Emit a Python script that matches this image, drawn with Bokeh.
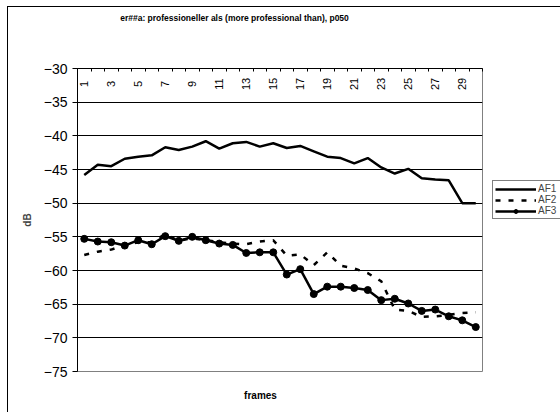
from math import pi

from bokeh.core.properties import value
from bokeh.embed import file_html
from bokeh.layouts import column, row
from bokeh.models import FixedTicker, Label, Legend, LegendItem, LinearAxis, Range1d
from bokeh.plotting import figure
from bokeh.resources import INLINE

# Level (dB) per analysis frame for the three formants
frames = list(range(1, 31))
af1 = [-45.8, -44.3, -44.5, -43.4, -43.1, -42.9, -41.7, -42.1, -41.6, -40.8,
       -41.9, -41.1, -40.9, -41.6, -41.1, -41.8, -41.5, -42.3, -43.1, -43.3,
       -44.1, -43.3, -44.7, -45.6, -44.9, -46.3, -46.5, -46.6, -50.0, -50.0]
af2 = [-57.7, -57.2, -56.9, -56.2, -55.8, -55.8, -54.6, -55.6, -55.2, -55.5,
       -55.8, -56.0, -56.1, -55.7, -55.5, -57.8, -57.6, -59.2, -57.3, -59.3,
       -59.7, -60.4, -61.6, -65.8, -66.0, -66.9, -66.8, -66.6, -66.3, -66.2]
af3 = [-55.3, -55.7, -55.8, -56.3, -55.5, -56.1, -54.9, -55.6, -55.0, -55.5,
       -56.0, -56.2, -57.4, -57.3, -57.3, -60.6, -59.8, -63.5, -62.4, -62.4,
       -62.6, -62.9, -64.4, -64.2, -64.9, -66.0, -65.8, -66.8, -67.4, -68.4]
label_frames = [f for f in frames if f % 2 == 1]
frame_labels = [str(f) for f in label_frames]
y_ticks = [-30, -35, -40, -45, -50, -55, -60, -65, -70, -75]
series_names = ["AF1", "AF2", "AF3"]

title_text = "er##a: professioneller als (more professional than), p050"
FONT = "Liberation Sans"
DASH = "5 8"


def blank(width, height):
    """A bare canvas whose data units are pixels, for text around the chart."""
    f = figure(width=width, height=height, x_range=Range1d(0, width), y_range=Range1d(0, height),
               x_axis_location=None, y_axis_location=None, title=None, min_border=0,
               toolbar_location=None, output_backend="svg")
    f.outline_line_color = None
    f.grid.visible = False
    f.background_fill_color = "white"
    f.border_fill_color = "white"
    return f


# ---- main plot area -------------------------------------------------------
p = figure(
    width=480, height=318,
    x_range=Range1d(0.5, 30.5), y_range=Range1d(-75, -30),
    x_axis_location=None, y_axis_location="left", title=None,
    output_backend="svg", toolbar_location=None,
    min_border_left=69, min_border_right=6, min_border_top=6, min_border_bottom=9,
)
p.background_fill_color = "white"
p.border_fill_color = "white"
p.outline_line_color = "#808080"
p.outline_line_width = 1

yax = p.yaxis[0]
yax.ticker = FixedTicker(ticks=y_ticks)
yax.major_label_text_font = FONT
yax.major_label_text_font_size = "14px"
yax.major_label_text_color = "black"
yax.major_label_standoff = 5
yax.major_tick_out = 5
yax.major_tick_in = 0
yax.minor_tick_line_color = None
yax.axis_line_color = "black"
yax.major_tick_line_color = "black"
yax.axis_label = "dB"
yax.axis_label_text_font = FONT
yax.axis_label_text_font_style = "bold"
yax.axis_label_text_font_size = "10px"
yax.axis_label_standoff = 8

p.ygrid.ticker = FixedTicker(ticks=y_ticks)
p.ygrid.grid_line_color = "black"
p.ygrid.grid_line_width = 1
p.xgrid.visible = False

# category axis along the top, ticks between frames
top = LinearAxis(
    ticker=FixedTicker(ticks=[i + 0.5 for i in range(0, 31)]),
    major_tick_in=3, major_tick_out=0, major_label_standoff=0,
    minor_tick_line_color=None,
    major_label_text_color=None, major_label_text_font_size="0px",
    axis_line_color="black", major_tick_line_color="black",
)
p.add_layout(top, "above")

# frame numbers, rotated, just under the top axis
p.text(x=label_frames, y=[-32.3] * len(label_frames), text=frame_labels,
       angle=pi / 2, text_align="center", text_baseline="middle",
       text_font=value(FONT), text_font_size=value("11px"), text_color="black")

p.line(frames, af1, line_color="black", line_width=2.5)
p.line(frames, af2, line_color="black", line_width=2.5, line_dash=DASH)
p.line(frames, af3, line_color="black", line_width=2.5)
p.scatter(frames, af3, marker="circle", size=7, fill_color="black", line_color="black")

# ---- legend strip to the right -------------------------------------------
# key glyphs carry a single point parked outside the strip's view
lf = blank(72, 318)
off = [-50]
k1 = lf.line(off, off, line_color="black", line_width=2.5)
k2 = lf.line(off, off, line_color="black", line_width=2.5, line_dash=DASH)
k3 = lf.line(off, off, line_color="black", line_width=2.5)
k3m = lf.scatter(off, off, marker="circle", size=7, fill_color="black", line_color="black")
legend = Legend(
    items=[LegendItem(label=series_names[0], renderers=[k1]),
           LegendItem(label=series_names[1], renderers=[k2]),
           LegendItem(label=series_names[2], renderers=[k3, k3m])],
    location=(4, 152),
    border_line_color="black", border_line_width=1,
    background_fill_color="white", background_fill_alpha=1,
    padding=2, spacing=0, margin=0,
    glyph_width=41, glyph_height=10, label_height=10, label_width=26, label_standoff=2,
    label_text_font=FONT, label_text_font_size="10px",
)
lf.add_layout(legend, "center")

# ---- chart title and x-axis title ----------------------------------------
tf = blank(552, 55)
tf.add_layout(Label(x=226, y=45, text=title_text, text_align="center", text_baseline="middle",
                    text_font=FONT, text_font_style="bold", text_font_size="8.5px",
                    text_color="black"))

bf = blank(552, 32)
bf.add_layout(Label(x=252, y=17, text="frames", text_align="center", text_baseline="middle",
                    text_font=FONT, text_font_style="bold", text_font_size="10px",
                    text_color="black"))

chart = column(tf, row(p, lf, spacing=0), bf, spacing=0)
chart.margin = (6, 0, 0, 7)
chart.styles = {"border-left": "1px solid black", "border-top": "1px solid black"}

open("out.html", "w").write(file_html(chart, INLINE))
